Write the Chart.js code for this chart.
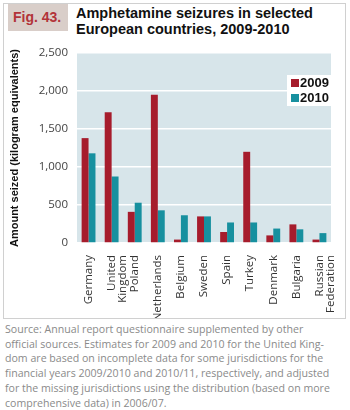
<!DOCTYPE html>
<html>
<head>
<meta charset="utf-8">
<script src="https://cdn.jsdelivr.net/npm/chart.js@4"></script>
<style>
  body { margin: 0; width: 350px; height: 410px; background: #fff; position: relative; overflow: hidden; }
  #frame { position: absolute; left: 3px; top: 3px; width: 343px; height: 316px; border: 1px solid #d0d0d0; box-sizing: border-box; }
  #fig { position: absolute; left: 8px; top: 4px; width: 60px; height: 27px; background: #d9cec9;
         color: #b23339; font: bold 14px "Liberation Sans", Arial, sans-serif; line-height: 26px; padding-left: 5px; box-sizing: border-box; }
  #title { position: absolute; left: 76px; top: 5px; color: #111; font: bold 14.5px "Liberation Sans", Arial, sans-serif; line-height: 16px; }
  #wrap { position: absolute; left: 0; top: 36px; width: 340px; height: 282px; }
  #note { position: absolute; left: 5px; top: 322px; width: 345px; color: #8a8a8a; font: 10.6px "Open Sans", sans-serif; line-height: 14.7px; white-space: nowrap; }
</style>
</head>
<body>
<div id="frame"></div>
<div id="fig">Fig. 43.</div>
<div id="title">Amphetamine seizures in selected<br>European countries, 2009-2010</div>
<div id="wrap"><canvas id="chart"></canvas></div>
<div id="note">Source: Annual report questionnaire supplemented by other<br>official sources. Estimates for 2009 and 2010 for the United King-<br>dom are based on incomplete data for some jurisdictions for the<br>financial years 2009/2010 and 2010/11, respectively, and adjusted<br>for the missing jurisdictions using the distribution (based on more<br>comprehensive data) in 2006/07.</div>
<script>
const countries = ['Germany', ['United', 'Kingdom'], 'Poland', 'Netherlands', 'Belgium', 'Sweden',
                   'Spain', 'Turkey', 'Denmark', 'Bulgaria', ['Russian', 'Federation']];
const years = ['2009', '2010'];
const seized2009 = [1380, 1720, 410, 1950, 45, 350, 145, 1200, 100, 245, 45];
const seized2010 = [1180, 875, 530, 430, 365, 350, 270, 270, 190, 180, 130];
const yTicks = [0, 500, 1000, 1500, 2000, 2500];

const red = '#a61c2c';
const teal = '#17909f';

// light blue plot background
const plotBg = {
    id: 'plotBg',
    beforeDraw(chart) {
        const a = chart.chartArea, ctx = chart.ctx;
        ctx.save();
        ctx.fillStyle = '#d7e5ea';
        ctx.fillRect(a.left, a.top, a.right - a.left, a.bottom - a.top);
        ctx.restore();
    }
};

// legend box inside the plot, top right
const boxLegend = {
    id: 'boxLegend',
    afterDraw(chart) {
        const a = chart.chartArea, ctx = chart.ctx;
        const x = a.right - 44, y = a.top + 22;
        ctx.save();
        ctx.fillStyle = '#fff';
        ctx.fillRect(x, y, 44, 31);
        ctx.font = 'bold 13px "Liberation Sans", Arial, sans-serif';
        ctx.textBaseline = 'middle';
        chart.data.datasets.forEach((ds, i) => {
            const cy = y + 8 + i * 15;
            ctx.fillStyle = ds.backgroundColor;
            ctx.fillRect(x + 4, cy - 4, 8, 8);
            ctx.fillStyle = '#111';
            ctx.fillText(ds.label, x + 13, cy + 0.5);
        });
        ctx.restore();
    }
};

new Chart(document.getElementById('chart'), {
    type: 'bar',
    data: {
        labels: countries,
        datasets: [
            { label: years[0], data: seized2009, backgroundColor: red },
            { label: years[1], data: seized2010, backgroundColor: teal }
        ]
    },
    options: {
        responsive: true,
        maintainAspectRatio: false,
        animation: false,
        layout: { padding: { top: 17, right: 9, left: 8, bottom: 0 } },
        datasets: { bar: { categoryPercentage: 0.6, barPercentage: 1.0 } },
        plugins: { legend: { display: false }, tooltip: { enabled: false } },
        scales: {
            x: {
                grid: { display: false },
                border: { display: false },
                ticks: {
                    minRotation: 90, maxRotation: 90, autoSkip: false,
                    color: '#333', padding: 4,
                    font: { family: '"Open Sans", sans-serif', size: 11.5, lineHeight: 1.0 }
                },
                afterFit(scale) {
                    scale.height = 75;
                    scale.paddingLeft = 0;
                    scale.paddingRight = 0;
                }
            },
            y: {
                min: 0, max: 2500,
                afterBuildTicks(scale) { scale.ticks = yTicks.map(v => ({ value: v })); },
                grid: { color: '#fff', lineWidth: 1.5, drawTicks: false },
                border: { display: false },
                ticks: {
                    color: '#444', padding: 9,
                    font: { family: '"Open Sans", sans-serif', size: 11.5 },
                    callback: v => v.toLocaleString('en-US')
                },
                title: {
                    display: true,
                    text: 'Amount seized (kilogram equivalents)',
                    color: '#111',
                    padding: { top: 0, bottom: 4 },
                    font: { family: '"Liberation Sans", Arial, sans-serif', size: 11, weight: 'bold' }
                },
                afterFit(scale) { scale.width = 69; }
            }
        }
    },
    plugins: [plotBg, boxLegend]
});
</script>
</body>
</html>
